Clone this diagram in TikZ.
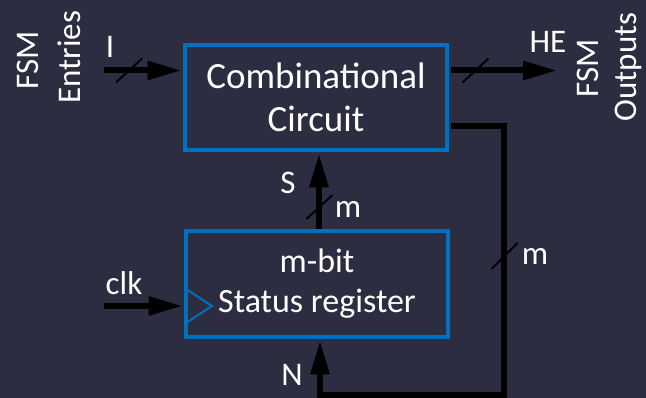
\documentclass[tikz,border=0pt]{standalone}
\usepackage{fontspec}
\setmainfont{Carlito}
\usetikzlibrary{arrows.meta}
\definecolor{bg}{RGB}{44,45,64}
\definecolor{boxblue}{RGB}{0,112,192}
\begin{document}
\begin{tikzpicture}[x=1pt,y=-1pt,
  block/.style={draw=boxblue,line width=3.5pt,inner sep=0pt,text=white,align=center},
  bus/.style={line width=6pt,draw=black},
  arr/.style={bus,-{Triangle[length=34pt,width=18pt]}},
  slash/.style={line width=2pt,draw=black},
  lbl/.style={text=white,font=\fontsize{33}{40}\selectfont,inner sep=0pt},
  side/.style={lbl,rotate=90,anchor=north}]
\fill[bg] (0,0) rectangle (646,398);
\useasboundingbox (0,0) rectangle (646,398);

% blocks
\node[block,minimum width=262pt,minimum height=105pt,
      font=\fontsize{37}{43}\selectfont] (comb) at (316,97.5) {Combinational\\Circuit};
\node[block,minimum width=262pt,minimum height=106pt,
      font=\fontsize{34}{40}\selectfont] (reg) at (317,284) {m-bit\\Status register};

% clock input marker
\draw[boxblue,line width=2pt] (186,289) -- (212,306) -- (186,323);

% anchor points of the buses
\coordinate (inW) at (104,70.5);
\coordinate (outE) at (557,70.5);
\coordinate (fbR) at (504,126);
\coordinate (fbB) at (504,395);
\coordinate (nB) at (320,395);
\coordinate (sx) at (319,190);
\coordinate (clkW) at (104,306);

% buses
\draw[arr,shorten >=1.75pt] (inW) -- (inW -| comb.west);
\draw[arr,shorten <=1.75pt] (inW -| comb.east) -- (outE);
\draw[arr,shorten >=1.75pt] (sx |- reg.north) -- (sx |- comb.south);
\draw[arr,shorten >=1.75pt] (clkW) -- (clkW -| reg.west);
\draw[arr,shorten <=1.75pt,shorten >=1.75pt]
  (fbR -| comb.east) -- (fbR) -- (fbB) -- (nB) -- (nB |- reg.south);

% bus width marks
\draw[slash] (129,70.5) ++(-13,12) -- ++(26,-24);
\draw[slash] (475.5,70.5) ++(-13,12) -- ++(26,-24);
\draw[slash] (319.5,207) ++(-13,12) -- ++(26,-24);
\draw[slash] (504.5,256) ++(-13,13) -- ++(26,-26);

% labels
\node[lbl] (ilbl) at (110,47) {I};
\node[lbl] (helbl) at (548,42) {HE};
\node[lbl] (slbl) at (288,183) {S};
\node[lbl] (m1) at (348,210) {m};
\node[lbl] (m2) at (535,257) {m};
\node[lbl] (clklbl) at (124,283) {clk};
\node[lbl] (nlbl) at (292,375) {N};

\node[side] (fsmL) at (17,60) {FSM};
\node[side] (entries) at (58,57) {Entries};
\node[side] (fsmR) at (577,68) {FSM};
\node[side] (outputs) at (615,67) {Outputs};
\end{tikzpicture}
\end{document}
